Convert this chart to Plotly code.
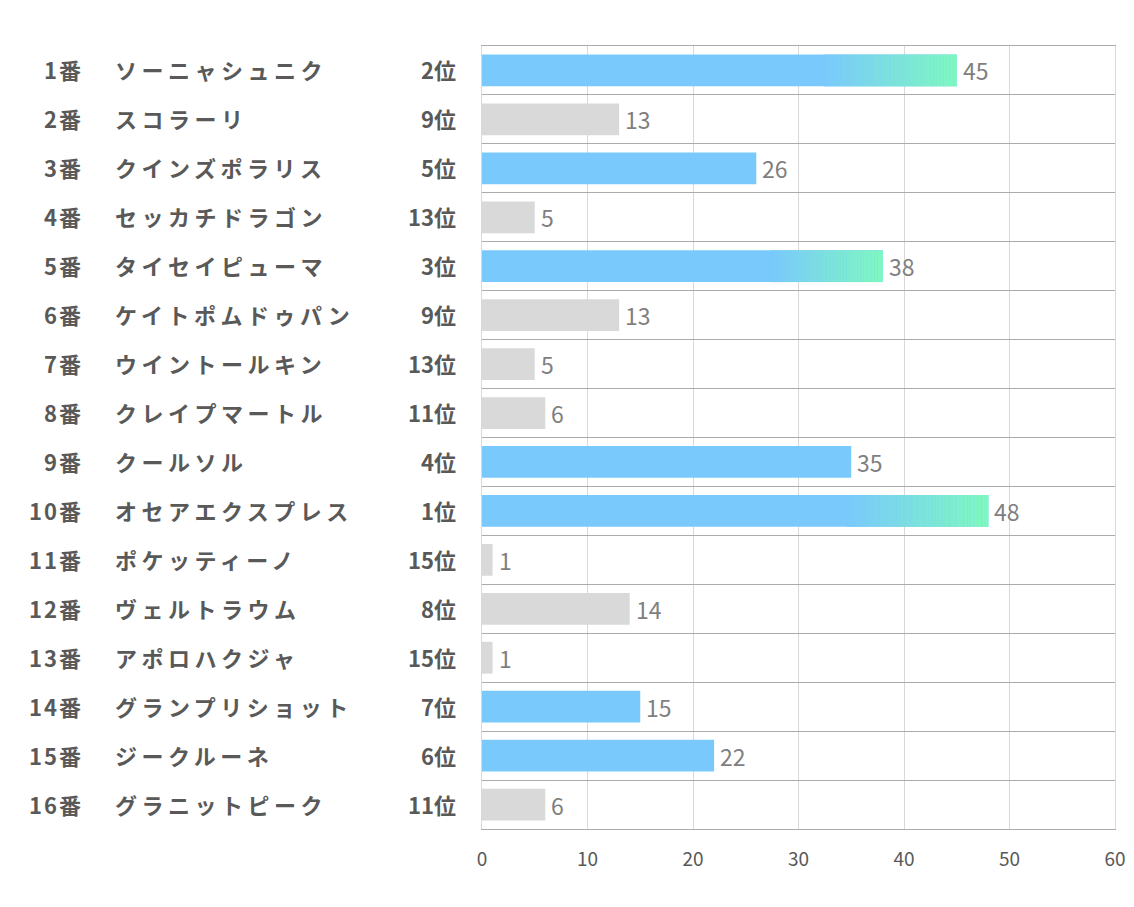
import plotly.graph_objects as go

numbers = ["1番", "2番", "3番", "4番", "5番", "6番", "7番", "8番",
           "9番", "10番", "11番", "12番", "13番", "14番", "15番", "16番"]
names = ["ソーニャシュニク", "スコラーリ", "クインズポラリス", "セッカチドラゴン",
         "タイセイピューマ", "ケイトポムドゥパン", "ウイントールキン", "クレイプマートル",
         "クールソル", "オセアエクスプレス", "ポケッティーノ", "ヴェルトラウム",
         "アポロハクジャ", "グランプリショット", "ジークルーネ", "グラニットピーク"]
ranks = ["2位", "9位", "5位", "13位", "3位", "9位", "13位", "11位",
         "4位", "1位", "15位", "8位", "15位", "7位", "6位", "11位"]
values = [45, 13, 26, 5, 38, 13, 5, 6, 35, 48, 1, 14, 1, 15, 22, 6]
highlight = [True, False, True, False, True, False, False, False,
             True, True, False, False, False, True, True, False]
gradient = [True, False, False, False, True, False, False, False,
            False, True, False, False, False, False, False, False]

BLUE = (121, 201, 252)
GREEN = (126, 249, 190)
GRAY = "#D9D9D9"
TXT = "#595959"
FONT = "Noto Sans CJK JP"

ypos = list(range(len(values)))

fig = go.Figure()

colors = ["rgb(%d,%d,%d)" % BLUE if h else GRAY for h in highlight]
fig.add_trace(go.Bar(
    y=ypos, x=values, orientation="h", width=0.65,
    marker=dict(color=colors, line=dict(width=0)),
    hoverinfo="skip", showlegend=False,
))

START = 0.72
N = 40
gy = [y for y, g in zip(ypos, gradient) if g]
gv = [v for v, g in zip(values, gradient) if g]
for k in range(N):
    t0 = START + (1 - START) * k / N
    t1 = START + (1 - START) * (k + 1) / N
    f = (k + 0.5) / N
    c = tuple(int(round(BLUE[i] + (GREEN[i] - BLUE[i]) * f)) for i in range(3))
    fig.add_trace(go.Bar(
        y=gy, x=[v * (t1 - t0) * (1.02 if k < N - 1 else 1.0) for v in gv],
        base=[v * t0 for v in gv],
        orientation="h", width=0.65,
        marker=dict(color="rgb(%d,%d,%d)" % c, line=dict(width=0)),
        hoverinfo="skip", showlegend=False,
    ))

annotations = []
for y, v in zip(ypos, values):
    annotations.append(dict(xref="x", yref="y", x=v, y=y, text=str(v),
                            xanchor="left", xshift=4, yshift=0, showarrow=False,
                            font=dict(family=FONT, size=23, color="#7F7F7F")))
for y, num, name, rk in zip(ypos, numbers, names, ranks):
    annotations.append(dict(xref="paper", yref="y", x=-0.627, y=y, yshift=1,
                            text="<b><span style='letter-spacing:2px'>%s</span></b>" % num,
                            xanchor="right", showarrow=False,
                            font=dict(family=FONT, size=22, color=TXT)))
    annotations.append(dict(xref="paper", yref="y", x=-0.583, y=y, yshift=1,
                            text="<b><span style='letter-spacing:4.5px'>%s</span></b>" % name,
                            xanchor="left", showarrow=False,
                            font=dict(family=FONT, size=22, color=TXT)))
    annotations.append(dict(xref="paper", yref="y", x=-0.038, y=y, yshift=1,
                            text="<b>%s</b>" % rk,
                            xanchor="right", showarrow=False,
                            font=dict(family=FONT, size=22, color=TXT)))

fig.update_layout(
    width=1126, height=891,
    margin=dict(l=474, r=19, t=38, b=70, autoexpand=False),
    paper_bgcolor="white", plot_bgcolor="white",
    barmode="overlay",
    annotations=annotations,
    xaxis=dict(range=[0, 60], dtick=10, tick0=0, showgrid=True, gridcolor="#D9D9D9",
               gridwidth=1, zeroline=False, showline=True, mirror=True,
               linecolor="#ABABAB", linewidth=1,
               tickfont=dict(family=FONT, size=19, color=TXT),
               ticks="", ticklabelstandoff=13, fixedrange=True),
    yaxis=dict(range=[15.5, -0.5], tickvals=[i - 0.5 for i in range(17)],
               showticklabels=False, showgrid=True, gridcolor="#ABABAB", gridwidth=1,
               zeroline=False, showline=True, mirror=True, linecolor="#D9D9D9",
               linewidth=1, ticks="", fixedrange=True),
)

fig.write_html("out.html")
